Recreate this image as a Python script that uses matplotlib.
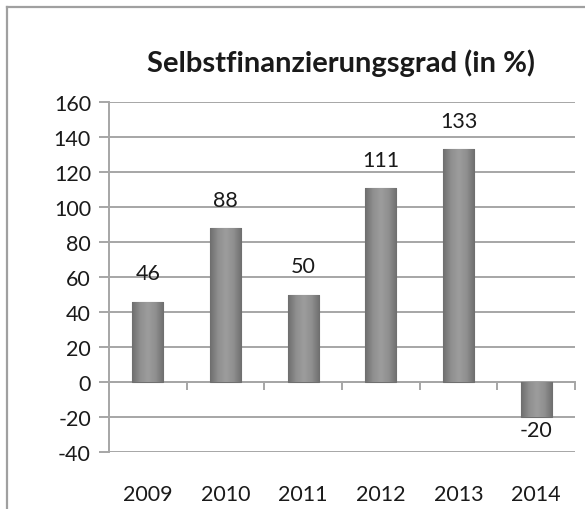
import numpy as np
import matplotlib
matplotlib.use("Agg")
import matplotlib.pyplot as plt
from matplotlib.colors import LinearSegmentedColormap
from matplotlib.lines import Line2D

# data
years = ["2009", "2010", "2011", "2012", "2013", "2014"]
values = [46, 88, 50, 111, 133, -20]
y_ticks = [-40, -20, 0, 20, 40, 60, 80, 100, 120, 140, 160]
title = "Selbstfinanzierungsgrad (in %)"

plt.rcParams['font.family'] = ['Lato', 'DejaVu Sans']

grid_col = "#a6a6a6"
text_col = "#1a1a1a"

fig = plt.figure(figsize=(5.85, 5.10), dpi=100)
ax = fig.add_axes([109 / 585, 1 - 453 / 510, 466 / 585, 350 / 510])

# outer chart frame (only left and top edges visible in the crop)
fx = 7 / 585
fy = 1 - 8 / 510
fig.add_artist(Line2D([fx, fx], [0, fy], transform=fig.transFigure, color="#a0a0a0", lw=1.6))
fig.add_artist(Line2D([fx, 1], [fy, fy], transform=fig.transFigure, color="#a0a0a0", lw=1.6))

x = np.arange(len(years)) + 0.5
bars = ax.bar(x, values, width=0.4, color="#8a8a8a", edgecolor="#6f6f6f", linewidth=0.8, zorder=3)

# cylinder-like shading on each bar
cmap = LinearSegmentedColormap.from_list("bar", ["#6e6e6e", "#8f8f8f", "#9d9d9d", "#8f8f8f", "#6e6e6e"])
grad = np.linspace(0, 1, 64).reshape(1, -1)
for b in bars:
    x0, y0 = b.get_x(), b.get_y()
    w, h = b.get_width(), b.get_height()
    im = ax.imshow(grad, cmap=cmap, extent=[x0, x0 + w, y0, y0 + h], aspect="auto", zorder=3.5)
    im.set_clip_path(b)

# value labels
for xi, v in zip(x, values):
    if v >= 0:
        ax.annotate(str(v), (xi, v), xytext=(0, 13), textcoords="offset points",
                    ha="center", va="bottom", fontsize=15.5, color=text_col)
    else:
        ax.annotate(str(v), (xi, v), xytext=(0, -2), textcoords="offset points",
                    ha="center", va="top", fontsize=15.5, color=text_col)

ax.set_xlim(0, len(years))
ax.set_ylim(-40, 160)
ax.set_yticks(y_ticks)
ax.set_yticklabels([str(t) for t in y_ticks])
ax.yaxis.grid(True, color=grid_col, lw=1.4, zorder=0)
ax.set_axisbelow(True)

# x axis drawn at zero with ticks at category boundaries
ax.spines["bottom"].set_position(("data", 0))
ax.spines["bottom"].set_color(grid_col)
ax.spines["bottom"].set_linewidth(1.4)
ax.set_xticks(np.arange(len(years) + 1))
ax.set_xticklabels([])
ax.tick_params(axis="x", direction="out", length=6, width=1.4, color=grid_col)

ax.spines["left"].set_color(grid_col)
ax.spines["left"].set_linewidth(1.4)
ax.spines["right"].set_visible(False)
ax.spines["top"].set_visible(False)
ax.tick_params(axis="y", direction="out", length=7, width=1.4, color=grid_col,
               labelsize=15.5, labelcolor=text_col, pad=6)

# category labels below the plot floor
sec = ax.secondary_xaxis("bottom")
sec.set_xticks(x)
sec.set_xticklabels(years)
sec.tick_params(length=0, labelsize=15.5, labelcolor=text_col, pad=23)
sec.spines["bottom"].set_visible(False)

fig.text(341 / 585, 1 - 63 / 510, title, ha="center", va="center",
         fontsize=21, fontweight="bold", color=text_col)

fig.savefig("out.png", dpi=100)
